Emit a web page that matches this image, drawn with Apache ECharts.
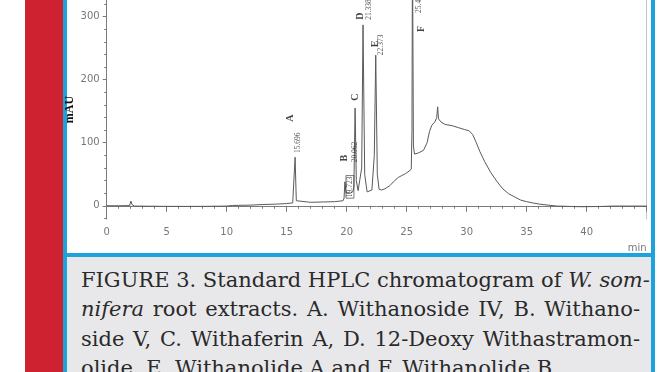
<!DOCTYPE html>
<html>
<head>
<meta charset="utf-8">
<script src="https://cdn.jsdelivr.net/npm/echarts@6/dist/echarts.min.js"></script>
<style>
  html, body { margin:0; padding:0; width:672px; height:372px; overflow:hidden; background:#fff; }
  #stripe { position:absolute; left:25px; top:0; width:38px; height:372px; background:#cf2230; }
  #panel { position:absolute; left:63px; top:-10px; width:584px; height:263px; background:#fff;
           border:4px solid #1ca3dc; border-top:none; }
  #capbox { position:absolute; left:63px; top:257px; width:584px; height:130px; background:#e8e8ea;
            border-left:4px solid #1ca3dc; border-right:4px solid #1ca3dc; }
  #caption { position:absolute; left:81px; top:265.7px; width:559px; font-family:"DejaVu Serif", serif;
             font-size:21px; line-height:29.4px; color:#2a2a2a; }
  #caption .j { text-align:justify; text-align-last:justify; white-space:nowrap; }
  #caption .l { text-align:left; white-space:nowrap; }
  #chart { position:absolute; left:0; top:0; width:672px; height:372px; z-index:2; }
</style>
</head>
<body>
<div id="stripe"></div>
<div id="panel"></div>
<div id="capbox"></div>
<div id="caption">
  <div class="j">FIGURE 3. Standard HPLC chromatogram of <i>W. som-</i></div>
  <div class="j"><i>nifera</i> root extracts. A. Withanoside IV, B. Withano-</div>
  <div class="j">side V, C. Withaferin A, D. 12-Deoxy Withastramon-</div>
  <div class="l">olide, E. Withanolide A and F. Withanolide B.</div>
</div>
<div id="chart"></div>
<script>
// ---- chromatogram trace (retention time, min ; absorbance, mAU) ----
const timeMin = [0, 1, 1.9, 1.97, 2.02, 2.1, 2.3, 5, 8, 10, 10.5, 12, 13, 14, 15, 15.5, 15.62, 15.7, 15.8, 15.95, 17, 18, 19, 19.7,
  19.78, 19.85, 19.95, 20.1, 20.3, 20.5, 20.6, 20.7, 20.8, 20.95, 21.1, 21.25, 21.36, 21.5, 21.7, 21.85, 22.1, 22.3, 22.42, 22.55, 22.7,
  22.9, 23.2, 23.6, 24.0, 24.3, 24.6, 24.9, 25.2, 25.38, 25.44, 25.48, 25.56, 25.65, 26.0, 26.4, 26.7, 26.9, 27.1, 27.35, 27.5, 27.58,
  27.65, 27.85, 28.2, 28.8, 29.3, 29.8, 30.2, 30.5, 30.8, 31.1, 31.5, 32.0, 32.5, 33.0, 33.5, 34.0, 34.5, 35.0, 35.5, 36.1, 36.8,
  37.5, 38.5, 39.5, 41, 42.2, 43.5, 45];
const signal = [0, 0, 0.2, 3, 7.5, 2, -0.5, -1, -1, -0.5, 0.5, 1, 2, 2.5, 3.5, 4.5, 6, 77, 8, 5, 5.5, 6, 6.5, 8,
  12, 38, 20, 18, 20, 22, 30, 155, 40, 24, 25, 60, 287, 50, 22, 20, 25, 80, 239, 50, 26,
  25, 27, 32, 40, 45, 48, 51, 55, 58, 120, 420, 95, 82, 84, 88, 100, 118, 128, 133, 140, 157,
  138, 133, 129, 127, 124, 121, 119, 113, 100, 86, 70, 53, 39, 27, 19, 14, 9, 6.5, 4.5, 2.5, 1,
  -0.5, -1, -1.5, -1.2, -0.5, -0.5, -0.5];

// ---- peak annotations ----
const peakLetters = ['A', 'B', 'C', 'D', 'E', 'F'];
const peakRT = ['15.696', '19.723', '20.062', '21.338', '22.373', '25.451'];
const rtLabelTime = [15.95, 20.27, 20.73, 21.86, 22.86, 26.03];
const rtLabelMAU = [83.7, 12, 69, 295, 239, 306];
const letterTime = [15.28, 19.78, 20.69, 21.15, 22.36, 26.19];
const letterMAU = [139, 75.7, 172.5, 301, 256.7, 280.5];

// ---- axes ----
const xLabels = [0, 5, 10, 15, 20, 25, 30, 35, 40];
const yLabels = [0, 100, 200, 300];
const yMinor = [-20, 0, 20, 40, 60, 80, 100, 120, 140, 160, 180, 200, 220, 240, 260, 280, 300, 320];
const xName = 'min';
const yName = 'mAU';

const trace = timeMin.map((t, i) => [t, signal[i]]);
const rtData = peakRT.map((s, i) => ({
  value: [rtLabelTime[i], rtLabelMAU[i]],
  label: i === 1 ? { borderColor: '#333', borderWidth: 0.8, padding: [0, 1, 0, 1] } : {},
  name: s
}));
const letterData = peakLetters.map((s, i) => ({ value: [letterTime[i], letterMAU[i]], name: s }));

const Y_MIN = -21, Y_MAX = 326.5;
const axisGray = '#7a7a7a';

const chart = echarts.init(document.getElementById('chart'), null, { renderer: 'canvas' });
chart.setOption({
  backgroundColor: 'transparent',
  animation: false,
  grid: { left: 106.7, right: 25.3, top: 0, bottom: 153, containLabel: false },
  xAxis: {
    type: 'value', min: 0, max: 45, interval: 5,
    name: xName, nameLocation: 'end', nameGap: 0, nameMoveOverlap: false,
    nameTextStyle: { color: '#777', fontFamily: 'DejaVu Sans', fontSize: 10, align: 'right', verticalAlign: 'top', padding: [38, 0, 0, 0] },
    axisLine: { show: true, lineStyle: { color: axisGray, width: 1 } },
    axisTick: { show: true, length: 6, lineStyle: { color: axisGray } },
    minorTick: { show: true, splitNumber: 5, length: 3, lineStyle: { color: axisGray } },
    axisLabel: { color: '#777', fontFamily: 'DejaVu Sans', fontSize: 10, margin: 8, customValues: xLabels },
    splitLine: { show: false }
  },
  yAxis: [
    {
      type: 'value', min: Y_MIN, max: Y_MAX, position: 'left',
      name: yName, nameLocation: 'middle', nameGap: 31, nameRotate: 90, nameMoveOverlap: false,
      nameTextStyle: { color: '#111', fontFamily: 'Liberation Serif', fontWeight: 'bold', fontSize: 12 },
      axisLine: { show: true, lineStyle: { color: axisGray, width: 1 } },
      axisTick: { show: true, length: 4, customValues: yLabels, lineStyle: { color: axisGray } },
      axisLabel: { customValues: yLabels, color: '#777', fontFamily: 'DejaVu Sans', fontSize: 10, margin: 7 },
      splitLine: { show: false }
    },
    {
      type: 'value', min: Y_MIN, max: Y_MAX, position: 'left',
      axisLine: { show: false },
      axisTick: { show: true, length: 2.5, customValues: yMinor, lineStyle: { color: axisGray } },
      axisLabel: { show: false },
      splitLine: { show: false }
    },
    {
      type: 'value', min: Y_MIN, max: Y_MAX, position: 'right',
      axisLine: { show: true, lineStyle: { color: '#c4c4c4', width: 1 } },
      axisTick: { show: false }, axisLabel: { show: false }, splitLine: { show: false }
    }
  ],
  series: [
    {
      type: 'line', data: trace, yAxisIndex: 0, showSymbol: false, symbol: 'none',
      lineStyle: { color: '#5a5a5a', width: 1 }, clip: true, z: 3
    },
    {
      type: 'scatter', data: rtData, yAxisIndex: 0, symbolSize: 0, clip: false, z: 4,
      label: {
        show: true, position: 'inside', rotate: 90, align: 'left', verticalAlign: 'middle',
        formatter: p => p.name, color: '#2a2a2a', fontFamily: 'Liberation Serif', fontSize: 7.5
      }
    },
    {
      type: 'scatter', data: letterData, yAxisIndex: 0, symbolSize: 0, clip: false, z: 4,
      label: {
        show: true, position: 'inside', rotate: 90, align: 'center', verticalAlign: 'middle',
        formatter: p => p.name, color: '#111', fontFamily: 'Liberation Serif', fontWeight: 'bold', fontSize: 10
      }
    }
  ]
});
</script>
</body>
</html>
